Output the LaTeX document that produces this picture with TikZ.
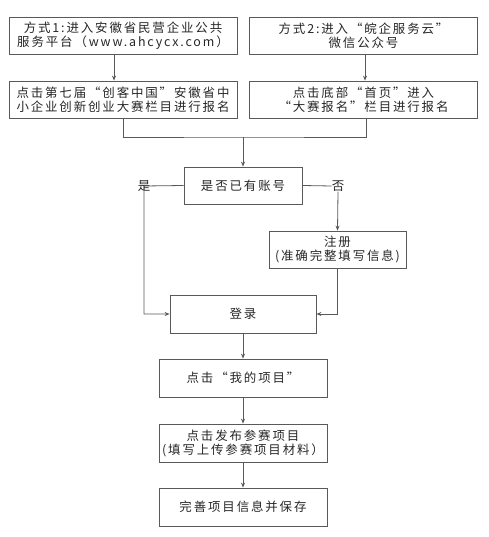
\documentclass[tikz,border=0pt]{standalone}
\usepackage{fontspec}
\usetikzlibrary{positioning,arrows.meta}
\newfontfamily\cjk[LetterSpace=15]{Noto Sans CJK SC}

\begin{document}
\begin{tikzpicture}[
        x=1bp, y=-1bp,
        stepbox/.style={rectangle, draw=black!65, line width=0.8bp, text=black!85, align=center, inner sep=0pt,
            font=\cjk\fontsize{12.5}{14}\selectfont},
        widebox/.style={stepbox, minimum width=228bp, minimum height=37bp},
        midbox/.style={stepbox, minimum width=168bp, minimum height=38bp},
        tag/.style={text=black!85, inner sep=0pt, font=\cjk\fontsize{12.5}{14}\selectfont},
        link/.style={draw=black!65, line width=0.8bp},
        flow/.style={link, -{Stealth[length=5bp,width=4bp]}}
    ]
    \useasboundingbox (0,0) rectangle (489,537);

    % Two ways in
    \node[widebox] (way1) at (123, 35.5) {方式1:进入安徽省民营企业公共\\服务平台（www.ahcycx.com）};
    \node[widebox] (way2) at (363.5, 35.5) {方式2:进入“皖企服务云”\\微信公众号};
    \node[widebox] (sign1) at (123, 99.5) {点击第七届“创客中国”安徽省中\\小企业创新创业大赛栏目进行报名};
    \node[widebox] (sign2) at (363.5, 99.5) {点击底部“首页”进入\\“大赛报名”栏目进行报名};
    \draw[flow] ([xshift=-9bp]way1.south) -- ([xshift=-9bp]sign1.north);
    \draw[flow] ([xshift=1.5bp]way2.south) -- ([xshift=1.5bp]sign2.north);

    % Account check
    \coordinate (merge) at (243, 137);
    \node[stepbox, minimum width=118bp, minimum height=37bp] (ask) at (243, 185.5) {是否已有账号};
    \node[tag] (yes) at (144, 186) {是};
    \node[tag] (no) at (338, 186) {否};
    \node[stepbox, minimum width=137bp, minimum height=37bp] (reg) at (337.5, 249.5) {注册\\(准确完整填写信息)};
    \node[stepbox, minimum width=146bp, minimum height=38bp] (login) at (243, 314) {登录};
    \draw[link] (sign1.south) |- (merge) -| ([xshift=2.5bp]sign2.south);
    \draw[flow] (merge) -- (ask.north);
    \draw[flow] (ask.west) -- (yes.center) |- (login.west);
    \draw[link] (ask.east) -- (no.west);
    \draw[flow] (no.south) -- (reg.north);
    \draw[flow] (reg.south) |- (login.east);

    % After login
    \node[midbox] (mine) at (243, 378) {点击“我的项目”};
    \node[midbox] (post) at (243, 443) {点击发布参赛项目\\(填写上传参赛项目材料）};
    \node[midbox] (save) at (243, 507) {完善项目信息并保存};
    \draw[flow] (login) -- (mine);
    \draw[flow] (mine) -- (post);
    \draw[flow] (post) -- (save);
\end{tikzpicture}
\end{document}
